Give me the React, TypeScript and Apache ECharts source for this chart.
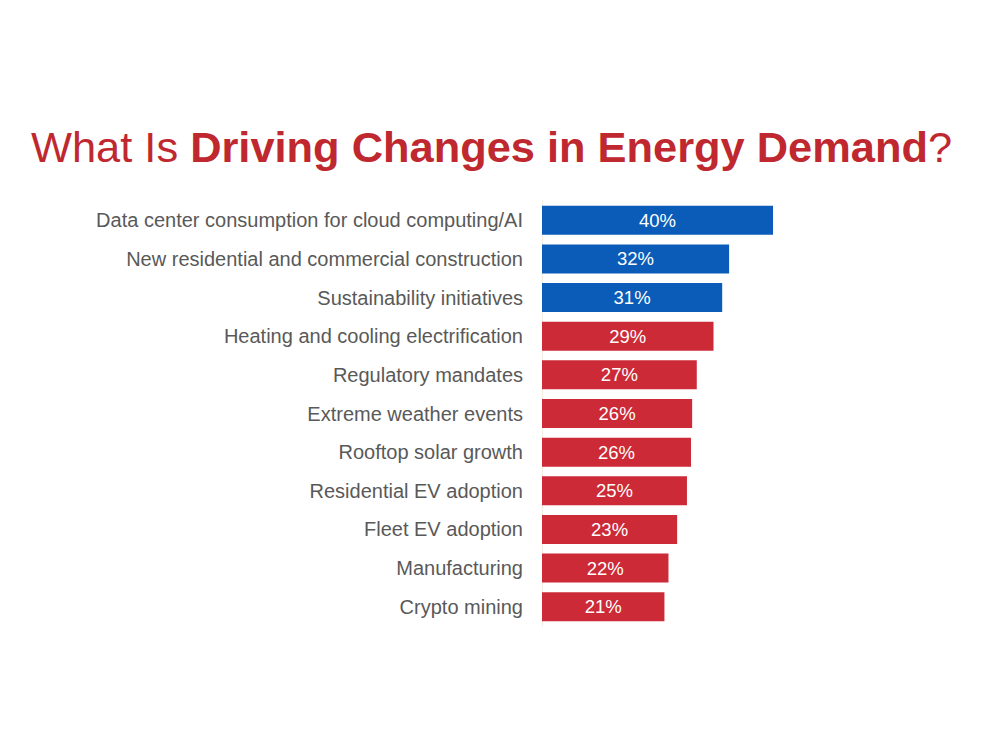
import React, { useEffect, useRef } from "react";
import * as echarts from "echarts";

const categories = [
  "Data center consumption for cloud computing/AI",
  "New residential and commercial construction",
  "Sustainability initiatives",
  "Heating and cooling electrification",
  "Regulatory mandates",
  "Extreme weather events",
  "Rooftop solar growth",
  "Residential EV adoption",
  "Fleet EV adoption",
  "Manufacturing",
  "Crypto mining",
];
const barValues = [40, 32.4, 31.2, 29.7, 26.8, 26.0, 25.8, 25.1, 23.4, 21.9, 21.2];
const shownLabels = ["40%", "32%", "31%", "29%", "27%", "26%", "26%", "25%", "23%", "22%", "21%"];
const groups = ["blue", "blue", "blue", "red", "red", "red", "red", "red", "red", "red", "red"];

const BLUE = "#0a5cb8";
const RED = "#cc2a36";

export default function App() {
  const ref = useRef<HTMLDivElement>(null);
  useEffect(() => {
    if (!ref.current) return;
    const chart = echarts.init(ref.current, null, { renderer: "svg" });
    const cats = [...categories].reverse();
    const vals = [...barValues].reverse();
    const labs = [...shownLabels].reverse();
    const grp = [...groups].reverse();
    chart.setOption({
      animation: false,
      backgroundColor: "#ffffff",
      title: {
        left: 26,
        top: 120,
        text: "{a|What Is }{b|Driving Changes in Energy Demand}{a|?}",
        textStyle: {
          rich: {
            a: { fontFamily: "Liberation Sans", fontSize: 43.4, color: "#c0282f", fontWeight: "normal" },
            b: { fontFamily: "Liberation Sans", fontSize: 43.4, color: "#c0282f", fontWeight: "bold" },
          },
        },
      },
      grid: { left: 542, top: 201, width: 231, height: 425, containLabel: false },
      xAxis: {
        type: "value",
        min: 0,
        max: 40,
        show: false,
      },
      yAxis: {
        type: "category",
        data: cats,
        axisLine: { show: true, lineStyle: { color: "#f1ede3", width: 1 } },
        axisTick: { show: false },
        axisLabel: {
          fontFamily: "Liberation Sans",
          fontSize: 20,
          color: "#595959",
          margin: 19,
        },
      },
      series: [
        {
          type: "bar",
          barWidth: 29,
          data: vals.map((v, i) => ({
            value: v,
            itemStyle: { color: grp[i] === "blue" ? BLUE : RED },
            label: { formatter: labs[i] },
          })),
          label: {
            show: true,
            position: "inside",
            color: "#ffffff",
            fontFamily: "Liberation Sans",
            fontSize: 18.5,
          },
        },
      ],
    });
    return () => chart.dispose();
  }, []);
  return <div ref={ref} style={{ width: 1000, height: 750, position: "absolute", left: 0, top: 0 }} />;
}
